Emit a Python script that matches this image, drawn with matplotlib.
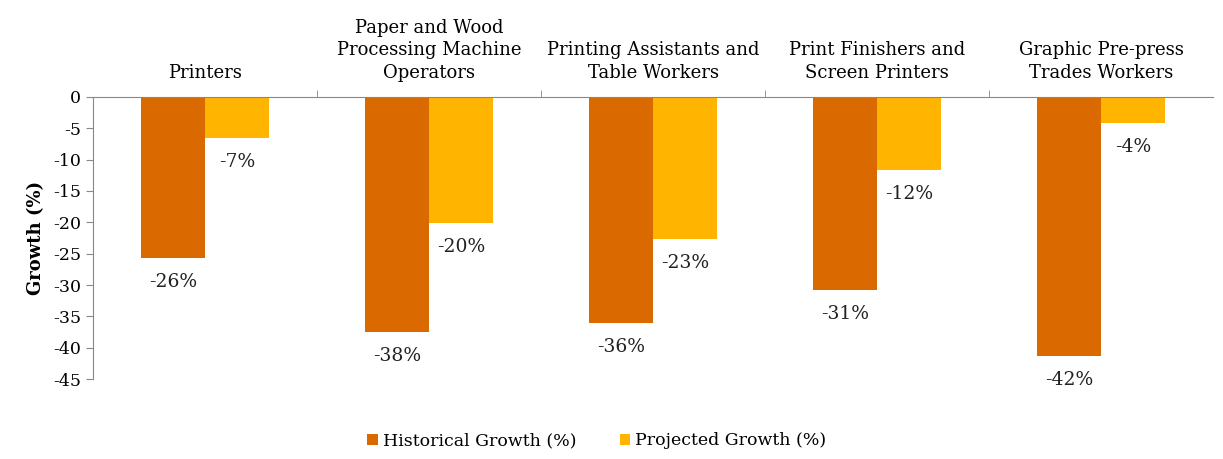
import numpy as np
import matplotlib
matplotlib.use('Agg')
import matplotlib.pyplot as plt
from matplotlib.ticker import FixedLocator

# data
categories = ['Printers',
              'Paper and Wood\nProcessing Machine\nOperators',
              'Printing Assistants and\nTable Workers',
              'Print Finishers and\nScreen Printers',
              'Graphic Pre-press\nTrades Workers']
historical = [-25.7, -37.5, -36.0, -30.8, -41.3]
projected = [-6.5, -20.1, -22.6, -11.6, -4.1]
hist_labels = ['-26%', '-38%', '-36%', '-31%', '-42%']
proj_labels = ['-7%', '-20%', '-23%', '-12%', '-4%']
yticks = [0, -5, -10, -15, -20, -25, -30, -35, -40, -45]

plt.rcParams['font.family'] = ['DejaVu Serif']
plt.rcParams['axes.unicode_minus'] = False

fig = plt.figure(figsize=(12.23, 4.59), dpi=100)
ax = fig.add_axes([0.076, 0.174, 0.916, 0.615])

x = np.arange(len(categories))
w = 0.286
c_hist = '#DA6A00'
c_proj = '#FFB400'
b1 = ax.bar(x - w/2, historical, w, color=c_hist, label='Historical Growth (%)')
b2 = ax.bar(x + w/2, projected, w, color=c_proj, label='Projected Growth (%)')

# value labels below the bar ends
for xi, v, s in zip(x - w/2, historical, hist_labels):
    ax.annotate(s, (xi, v), xytext=(0, -11), textcoords='offset points',
                ha='center', va='top', fontsize=13.5, color='#222222')
for xi, v, s in zip(x + w/2, projected, proj_labels):
    ax.annotate(s, (xi, v), xytext=(0, -11), textcoords='offset points',
                ha='center', va='top', fontsize=13.5, color='#222222')

ax.set_xlim(-0.5, len(categories) - 0.5)
ax.set_ylim(-45, 0)
ax.set_yticks(yticks)
ax.tick_params(axis='y', labelsize=12.5, length=5, color='#888888')

# category labels sit on top of the zero line
ax.xaxis.tick_top()
ax.set_xticks(x)
ax.set_xticklabels(categories, fontsize=13, linespacing=1.3)
ax.tick_params(axis='x', which='major', length=0, pad=11)
ax.xaxis.set_minor_locator(FixedLocator(np.arange(0.5, len(categories) - 0.5, 1)))
ax.tick_params(axis='x', which='minor', length=5, color='#888888', top=True, bottom=False)

ax.set_ylabel('Growth (%)', fontsize=13, fontweight='bold', labelpad=6)

for s in ['bottom', 'right']:
    ax.spines[s].set_visible(False)
for s in ['top', 'left']:
    ax.spines[s].set_color('#888888')

fig.legend(handles=[b1, b2], loc='center', bbox_to_anchor=(0.488, 0.04), ncol=2,
           frameon=False, fontsize=12.5, handlelength=0.6, handleheight=0.6,
           handletextpad=0.3, columnspacing=2.5)

fig.savefig('out.png', dpi=100)
